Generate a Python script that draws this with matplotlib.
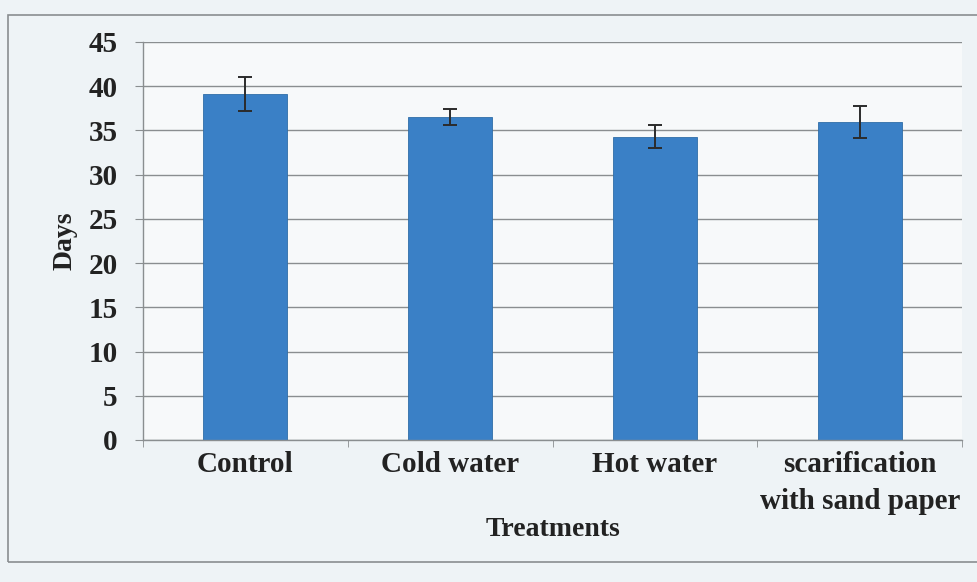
import matplotlib
matplotlib.use("Agg")
import matplotlib.pyplot as plt
import matplotlib.patches as patches
import numpy as np

# data
treatments = ["Control", "Cold water", "Hot water", "scarification\nwith sand paper"]
days = [39.1, 36.5, 34.3, 35.9]
errors = [1.9, 0.9, 1.3, 1.8]
y_ticks = [0, 5, 10, 15, 20, 25, 30, 35, 40, 45]

plt.rcParams['font.family'] = ['Liberation Serif', 'DejaVu Serif']
plt.rcParams['font.weight'] = 'bold'

bg = '#eef3f6'
fig = plt.figure(figsize=(9.78, 5.82), dpi=100, facecolor=bg)
ax = fig.add_axes([0.146, 0.244, 0.838, 0.684])
ax.set_facecolor('#f7f9fa')

x = np.arange(len(treatments))
ax.bar(x, days, width=0.41, color='#3a80c6', edgecolor='#2f6ea8', linewidth=0.6, zorder=2)
ax.errorbar(x, days, yerr=errors, fmt='none', ecolor='#2b2b2b', elinewidth=1.4,
            capsize=5, capthick=1.4, zorder=3)

ax.set_xlim(-0.5, 3.5)
ax.set_ylim(0, 45)
ax.set_yticks(y_ticks)
ax.set_yticklabels([str(v) for v in y_ticks], fontsize=21, fontweight='bold')
ax.yaxis.grid(True, color='#8a8e90', linewidth=1.0, zorder=1)
ax.set_axisbelow(True)

ax.set_xticks(x)
ax.set_xticklabels(treatments, fontsize=21, fontweight='bold', linespacing=1.45)
ax.set_xticks(np.arange(-0.5, 4.0, 1.0), minor=True)
ax.tick_params(axis='x', which='major', length=0, pad=8, colors='#222222')
ax.tick_params(axis='x', which='minor', length=5, color='#8a8e90', direction='out')
ax.tick_params(axis='y', length=6, color='#8a8e90', pad=12, colors='#222222')

for side in ['top', 'right']:
    ax.spines[side].set_visible(False)
for side in ['left', 'bottom']:
    ax.spines[side].set_color('#8a8e90')
    ax.spines[side].set_linewidth(1.0)

ax.set_ylabel('Days', fontsize=20, fontweight='bold', labelpad=8, color='#222222')
ax.set_xlabel('Treatments', fontsize=20, fontweight='bold', labelpad=2, color='#222222')

# outer chart frame
frame = patches.Rectangle((8 / 978, 1 - 562 / 582), 1.0, (562 - 15) / 582,
                          transform=fig.transFigure, fill=False,
                          edgecolor='#8a8e90', linewidth=1.2)
fig.patches.append(frame)

fig.savefig('out.png', dpi=100, facecolor=bg)
